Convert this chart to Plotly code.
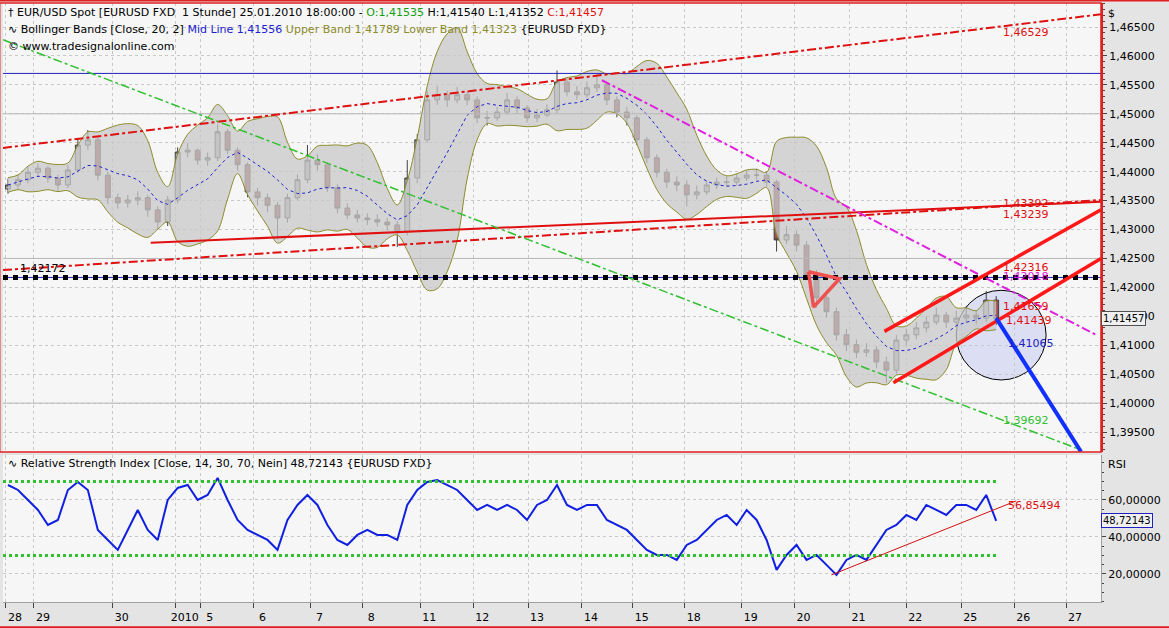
import plotly.graph_objects as go
import pandas as pd

# 4-hourly-ish bars (EUR/USD, 28.12.2009 - 25.01.2010)
closes = [1.4377, 1.4386, 1.4399, 1.4406, 1.4389, 1.4377, 1.4403, 1.4446, 1.4455, 1.4394,
          1.4355, 1.4346, 1.4351, 1.4355, 1.4334, 1.4313, 1.4351, 1.4434, 1.4437, 1.4420,
          1.4424, 1.4469, 1.4437, 1.4412, 1.4365, 1.4355, 1.4342, 1.4320, 1.4355, 1.4386,
          1.4420, 1.4412, 1.4372, 1.4337, 1.4325, 1.4320, 1.4317, 1.4313, 1.4308, 1.4296,
          1.4389, 1.4455, 1.4524, 1.4533, 1.4524, 1.4533, 1.4524, 1.4493, 1.4493, 1.4503,
          1.4524, 1.4510, 1.4493, 1.4498, 1.4507, 1.4555, 1.4538, 1.4533, 1.4545, 1.4550,
          1.4524, 1.4503, 1.4493, 1.4455, 1.4424, 1.4399, 1.4382, 1.4377, 1.4360, 1.4365,
          1.4377, 1.4382, 1.4382, 1.4389, 1.4394, 1.4394, 1.4382, 1.4282, 1.4291, 1.4273,
          1.4222, 1.4182, 1.4158, 1.4118, 1.4101, 1.4088, 1.4092, 1.4071, 1.4057, 1.4109,
          1.4118, 1.4130, 1.4140, 1.4152, 1.4140, 1.4147, 1.4152, 1.4147, 1.4178, 1.41457]
highs = [1.4388, 1.4395, 1.4408, 1.4414, 1.4410, 1.4395, 1.4411, 1.4458, 1.4472, 1.4460,
         1.4400, 1.4362, 1.4360, 1.4366, 1.4360, 1.4340, 1.4358, 1.4442, 1.4450, 1.4440,
         1.4433, 1.4482, 1.4474, 1.4442, 1.4416, 1.4372, 1.4362, 1.4348, 1.4362, 1.4395,
         1.4446, 1.4430, 1.4416, 1.4378, 1.4345, 1.4334, 1.4328, 1.4326, 1.4320, 1.4315,
         1.4420, 1.4465, 1.4540, 1.4548, 1.4540, 1.4546, 1.4538, 1.4530, 1.4505, 1.4512,
         1.4536, 1.4530, 1.4515, 1.4508, 1.4516, 1.4575, 1.4562, 1.4548, 1.4556, 1.4568,
         1.4555, 1.4530, 1.4512, 1.4498, 1.4460, 1.4430, 1.4405, 1.4392, 1.4385, 1.4376,
         1.4385, 1.4390, 1.4392, 1.4396, 1.4402, 1.4405, 1.4400, 1.4386, 1.4306, 1.4298,
         1.4280, 1.4230, 1.4192, 1.4165, 1.4128, 1.4110, 1.4104, 1.4098, 1.4080, 1.4118,
         1.4128, 1.4140, 1.4150, 1.4165, 1.4158, 1.4160, 1.4168, 1.4160, 1.4194, 1.4185]
lows = [1.4362, 1.4370, 1.4380, 1.4392, 1.4381, 1.4366, 1.4372, 1.4398, 1.4438, 1.4385,
        1.4344, 1.4336, 1.4338, 1.4342, 1.4322, 1.4300, 1.4306, 1.4345, 1.4425, 1.4412,
        1.4410, 1.4418, 1.4430, 1.4402, 1.4356, 1.4342, 1.4330, 1.4283, 1.4312, 1.4350,
        1.4380, 1.4402, 1.4365, 1.4328, 1.4318, 1.4312, 1.4308, 1.4305, 1.4298, 1.4270,
        1.4290, 1.4380, 1.4450, 1.4515, 1.4512, 1.4518, 1.4515, 1.4484, 1.4480, 1.4488,
        1.4498, 1.4500, 1.4485, 1.4486, 1.4495, 1.4500, 1.4530, 1.4524, 1.4528, 1.4538,
        1.4515, 1.4494, 1.4480, 1.4446, 1.4415, 1.4390, 1.4372, 1.4366, 1.4340, 1.4352,
        1.4360, 1.4370, 1.4374, 1.4376, 1.4384, 1.4386, 1.4374, 1.4262, 1.4275, 1.4262,
        1.4212, 1.4165, 1.4148, 1.4108, 1.4090, 1.4078, 1.4080, 1.4060, 1.4035, 1.4050,
        1.4100, 1.4110, 1.4122, 1.4135, 1.4130, 1.4134, 1.4138, 1.4136, 1.4140, 1.4135]
first_open = 1.4370
opens = [first_open] + closes[:-1]

rsi = [68.1, 65.4, 60.0, 54.6, 46.5, 49.2, 65.4, 69.7, 65.4, 43.8,
       38.4, 33.0, 43.8, 54.6, 43.8, 38.4, 60.0, 66.5, 68.1, 60.0,
       62.7, 71.9, 60.0, 49.2, 43.8, 41.1, 38.4, 33.0, 49.2, 57.3,
       62.7, 57.3, 46.5, 38.4, 35.7, 41.1, 43.8, 41.1, 41.1, 38.4,
       57.3, 65.4, 69.7, 70.8, 68.1, 65.4, 60.0, 54.6, 57.3, 54.6,
       57.3, 54.6, 49.2, 57.3, 60.0, 68.1, 57.3, 54.6, 57.3, 57.3,
       49.2, 46.5, 43.8, 38.4, 33.0, 30.3, 30.3, 27.6, 35.7, 38.4,
       43.8, 49.2, 51.9, 46.5, 54.6, 49.2, 38.4, 22.2, 30.3, 35.7,
       27.6, 30.3, 24.9, 19.5, 27.6, 30.3, 27.6, 35.7, 43.8, 46.5,
       51.9, 49.2, 57.3, 54.6, 51.9, 57.3, 57.3, 54.6, 62.7, 48.72]

day_labels = ["28", "29", "30", "2010", "5", "6", "7", "8", "11", "12", "13", "14",
              "15", "18", "19", "20", "21", "22", "25", "26", "27"]
day_pos = [-0.2, 2.6, 10.5, 16.8, 19.3, 24.6, 30.3, 35.5, 41.3, 46.6, 52.1, 57.5,
           62.6, 67.8, 73.5, 78.8, 84.3, 90.0, 95.5, 100.8, 106.0]

price_ticks = [1.395, 1.400, 1.405, 1.410, 1.415, 1.420, 1.425, 1.430, 1.435,
               1.440, 1.445, 1.450, 1.455, 1.460, 1.465]
rsi_ticks = [20, 40, 60]

# drawn objects (bar index, price)
trend_lines = [
    # x0, y0, x1, y1, color, width, dash
    (-0.5, 1.4441, 109.5, 1.4672, "#e01010", 2, "dashdot"),
    (-0.5, 1.4230, 109.5, 1.4351, "#e01010", 2, "dashdot"),
    (14.3, 1.4277, 109.5, 1.4348, "#e01010", 2, "solid"),
    (-0.5, 1.4628, 107.5, 1.3919, "#30c030", 1.5, "dashdot"),
    (59.5, 1.4558, 109.0, 1.4118, "#e020e0", 2, "dashdot"),
    (87.8, 1.4124, 109.5, 1.4334, "#ff1818", 3.5, "solid"),
    (88.7, 1.4035, 109.5, 1.4250, "#ff1818", 3.5, "solid"),
    (99.0, 1.4147, 107.5, 1.3916, "#1030ff", 4, "solid"),
]
triangle_x = [80.2, 83.3, 80.7, 80.2]
triangle_y = [1.4227, 1.4215, 1.4166, 1.4227]
hlines = [(1.45698, "#2020c0", 1), (1.4500, "#b8b8b8", 1), (1.4250, "#b8b8b8", 1),
          (1.4000, "#b8b8b8", 1)]
fib0 = 1.42172
rsi_trend = (82.5, 19.5, 101.0, 59.5)

s = pd.Series(closes)
mid = s.rolling(7, min_periods=1).mean()
sd = s.rolling(7, min_periods=2).std().bfill()
upper = mid + 2 * sd
lower = mid - 2 * sd
x = list(range(len(closes)))

fig = go.Figure()
fig.add_trace(go.Scatter(x=x, y=upper, mode="lines", line=dict(color="#8c8c2c", width=1, shape="spline"),
                         showlegend=False, hoverinfo="skip"))
fig.add_trace(go.Scatter(x=x, y=lower, mode="lines", line=dict(color="#8c8c2c", width=1, shape="spline"),
                         fill="tonexty", fillcolor="rgba(200,200,200,0.75)",
                         showlegend=False, hoverinfo="skip"))
fig.add_trace(go.Scatter(x=x, y=mid, mode="lines", line=dict(color="#2020d0", width=1, dash="dot"),
                         showlegend=False, hoverinfo="skip"))

for hy, hc, hw in hlines:
    fig.add_trace(go.Scatter(x=[-0.5, 109.5], y=[hy, hy], mode="lines",
                             line=dict(color=hc, width=hw), showlegend=False))
fig.add_trace(go.Scatter(x=[-0.5, 109.5], y=[fib0, fib0], mode="lines",
                         line=dict(color="#2020c0", width=1), showlegend=False))
fig.add_trace(go.Scatter(x=[-0.5, 109.5], y=[fib0, fib0], mode="lines",
                         line=dict(color="black", width=5, dash="dot"), showlegend=False))

fig.add_trace(go.Candlestick(
    x=x, open=opens, high=highs, low=lows, close=closes, whiskerwidth=0,
    increasing=dict(line=dict(color="#404040", width=1), fillcolor="#b8b8b8"),
    decreasing=dict(line=dict(color="#404040", width=1), fillcolor="#a05050"),
    showlegend=False))

for x0, y0, x1, y1, c, w, d in trend_lines:
    fig.add_trace(go.Scatter(x=[x0, x1], y=[y0, y1], mode="lines",
                             line=dict(color=c, width=w, dash=d), showlegend=False))
fig.add_trace(go.Scatter(x=triangle_x, y=triangle_y, mode="lines",
                         line=dict(color="#f05050", width=3.5), showlegend=False))

# RSI panel
fig.add_trace(go.Scatter(x=x, y=rsi, mode="lines", line=dict(color="#1020e0", width=2),
                         yaxis="y2", xaxis="x2", showlegend=False))
for lv in (30, 70):
    fig.add_trace(go.Scatter(x=[-0.5, 99], y=[lv, lv], mode="lines", xaxis="x2", yaxis="y2",
                             line=dict(color="#30c030", width=3, dash="dot"), showlegend=False))
fig.add_trace(go.Scatter(x=[rsi_trend[0], rsi_trend[2]], y=[rsi_trend[1], rsi_trend[3]],
                         mode="lines", xaxis="x2", yaxis="y2",
                         line=dict(color="#d01010", width=1), showlegend=False))

# circle marker around the last bars
fig.add_shape(type="circle", xref="x", yref="y", x0=95.0, x1=104.0, y0=1.4040, y1=1.4195,
              line=dict(color="black", width=1), fillcolor="rgba(160,170,240,0.3)", layer="below")

fmt = lambda v: f"{v:.5f}".replace(".", ",")
grid = dict(showgrid=True, gridcolor="#c8c8c8", griddash="dot", gridwidth=1, automargin=False)
fig.update_layout(
    width=1169, height=628,
    margin=dict(l=3, r=68, t=3, b=26, autoexpand=False),
    paper_bgcolor="#e4e4e4", plot_bgcolor="#f6f6f6",
    font=dict(family="DejaVu Sans", size=11, color="black"),
    xaxis=dict(domain=[0, 1], range=[-0.5, 109.5], anchor="y", showticklabels=False,
               tickvals=day_pos, **grid, zeroline=False, rangeslider=dict(visible=False)),
    yaxis=dict(domain=[0.2504, 1], range=[1.39155, 1.46915], side="right",
               tickvals=price_ticks, ticktext=[fmt(v) for v in price_ticks],
               ticks="outside", ticklen=4, minor=dict(ticks="outside", ticklen=2, dtick=0.001, showgrid=False),
               **grid, zeroline=False, showline=True, linecolor="#e02020", linewidth=2),
    xaxis2=dict(domain=[0, 1], range=[-0.5, 109.5], anchor="y2", tickvals=day_pos,
                ticktext=day_labels, ticks="outside", ticklen=5, ticklabelshift=9,
                ticklabelstandoff=0, **grid, zeroline=False, showline=True, linecolor="#a0a0a0"),
    yaxis2=dict(domain=[0, 0.2454], range=[4.86, 84.3], side="right", anchor="x2",
                tickvals=rsi_ticks, ticktext=[fmt(v) for v in rsi_ticks],
                ticks="outside", ticklen=4, minor=dict(ticks="outside", ticklen=2, dtick=5, showgrid=False),
                **grid, zeroline=False, showline=True, linecolor="#a0a0a0"),
)

# frames
fig.add_shape(type="rect", xref="paper", yref="paper", x0=-0.003, x1=1.0, y0=0.2504, y1=1.0,
              line=dict(color="#e02020", width=1.5))
fig.add_shape(type="rect", xref="paper", yref="paper", x0=-0.004, x1=1.1125, y0=-0.042, y1=1.004,
              line=dict(color="#e02020", width=2))


def txt(xv, yv, t, color, xref="x", yref="y", size=11, anchor="left", **kw):
    fig.add_annotation(x=xv, y=yv, xref=xref, yref=yref, text=t, showarrow=False,
                       font=dict(color=color, size=size), xanchor=anchor, **kw)


txt(0.003, 0.998, "\u2020 EUR/USD Spot [EURUSD FXD  1 Stunde] 25.01.2010 18:00:00 - "
    "<span style='color:#10a010'>O:1,41535</span> H:1,41540 L:1,41352 "
    "<span style='color:#e01010'>C:1,41457</span>", "black", "paper", "paper", yanchor="top")
txt(0.003, 0.970, "\u223f Bollinger Bands [Close, 20, 2] <span style='color:#2020d0'>Mid Line 1,41556</span> "
    "<span style='color:#8c8c2c'>Upper Band 1,41789 Lower Band 1,41323</span> {EURUSD FXD}",
    "black", "paper", "paper", yanchor="top")
txt(0.003, 0.942, "\u00a9 www.tradesignalonline.com", "black", "paper", "paper", yanchor="top")
txt(0.003, 0.245, "\u223f Relative Strength Index [Close, 14, 30, 70, Nein] 48,72143 {EURUSD FXD}",
    "black", "paper", "paper", yanchor="top")

txt(-0.6, 1.4554, "38,20% - 1,45698", "#2020c0")
txt(-0.6, 1.4207, "0,00% - 1,42172", "#2020c0")
txt(1.0, 1.4233, "1,42172", "black")
txt(99.5, 1.4640, "1,46529", "#e01010")
txt(99.5, 1.4345, "1,43392", "#e01010")
txt(99.5, 1.4326, "1,43239", "#e01010")
txt(99.5, 1.4235, "1,42316", "#e01010")
txt(99.5, 1.4219, "1,42018", "#e020e0")
txt(99.5, 1.4167, "1,41659", "#e01010")
txt(99.8, 1.4143, "1,41439", "#e01010")
txt(100.0, 1.4103, "1,41065", "#2020c0")
txt(99.5, 1.3970, "1,39692", "#30c030")
txt(100.0, 56.8, "56,85494", "#e01010", "x2", "y2")

fig.add_annotation(x=1.0, y=1.41457, xref="paper", yref="y", text="1,41457", showarrow=False,
                   xanchor="left", bgcolor="#f0f0f0", bordercolor="#505050", borderwidth=1,
                   font=dict(size=10))
fig.add_annotation(x=1.0, y=48.72, xref="paper", yref="y2", text="48,72143", showarrow=False,
                   xanchor="left", bgcolor="#f0f0f0", bordercolor="#2020c0", borderwidth=1,
                   font=dict(size=10))
txt(1.005, 0.997, "$", "black", "paper", "paper", yanchor="top")
txt(1.005, 0.243, "RSI", "black", "paper", "paper", yanchor="top")

fig.write_html("out.html", config={"displayModeBar": False},
               post_script="document.body.style.margin='0';")
